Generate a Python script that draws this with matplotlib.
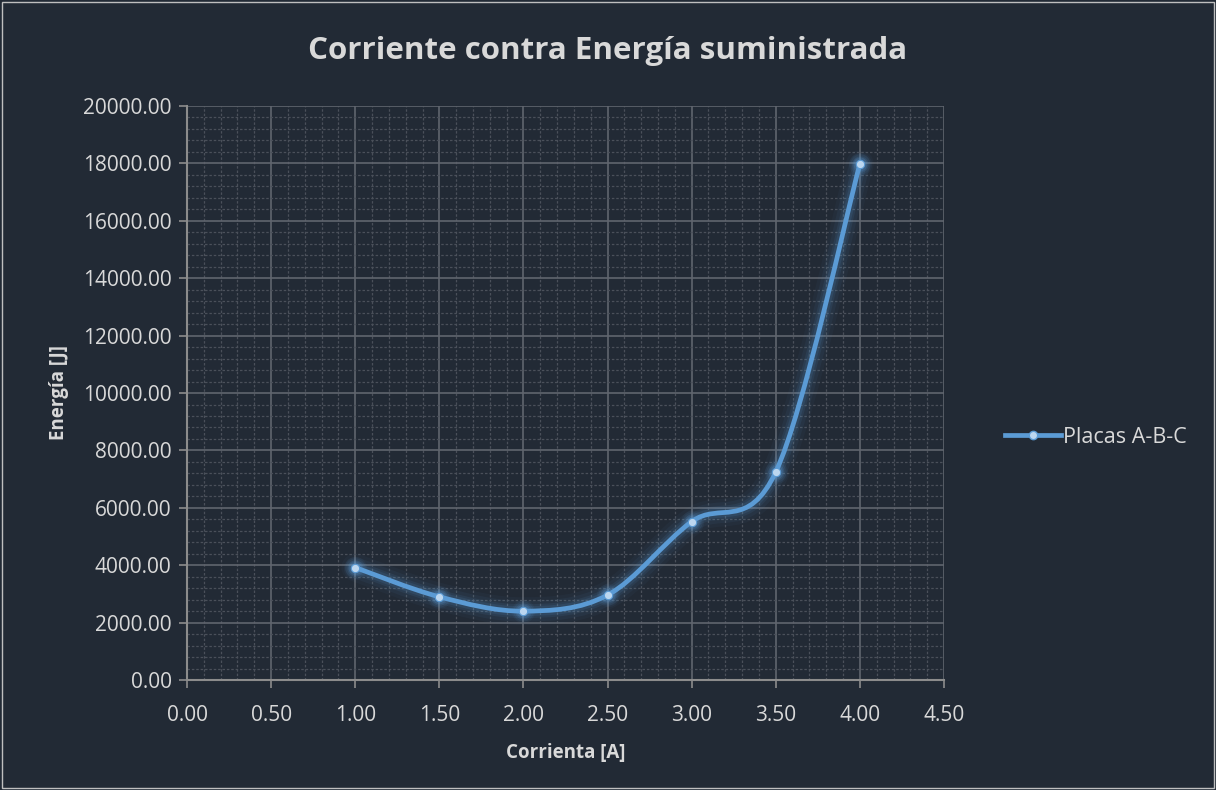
import matplotlib
matplotlib.use('Agg')
import matplotlib.pyplot as plt
from matplotlib.path import Path
from matplotlib.patches import PathPatch
from matplotlib.ticker import MultipleLocator, FormatStrFormatter

corriente = [1.0, 1.5, 2.0, 2.5, 3.0, 3.5, 4.0]
energia = [3920, 2900, 2400, 2960, 5520, 7250, 17980]
serie = 'Placas A-B-C'

bg = '#222a35'
txt = '#d9d9d9'
azul = '#5b9bd5'

plt.rcParams['font.family'] = ['Open Sans', 'DejaVu Sans']


def suave(xs, ys, t=1/6):
    # curva tipo Excel (Catmull-Rom a Bezier)
    verts = [(xs[0], ys[0])]
    codes = [Path.MOVETO]
    n = len(xs)
    for i in range(n - 1):
        x0, y0 = (xs[i - 1], ys[i - 1]) if i > 0 else (xs[i], ys[i])
        x3, y3 = (xs[i + 2], ys[i + 2]) if i + 2 < n else (xs[i + 1], ys[i + 1])
        c1 = (xs[i] + (xs[i + 1] - x0) * t, ys[i] + (ys[i + 1] - y0) * t)
        c2 = (xs[i + 1] - (x3 - xs[i]) * t, ys[i + 1] - (y3 - ys[i]) * t)
        verts += [c1, c2, (xs[i + 1], ys[i + 1])]
        codes += [Path.CURVE4] * 3
    return Path(verts, codes)


fig = plt.figure(figsize=(12.16, 7.9), dpi=100, facecolor=bg)
fig.patches.append(plt.Rectangle((0.002, 0.002), 0.996, 0.996, transform=fig.transFigure,
                                 fill=False, edgecolor='#bfbfbf', linewidth=1))
ax = fig.add_axes([0.1538, 0.1392, 0.6225, 0.7266], facecolor=bg)

ax.set_xlim(0, 4.5)
ax.set_ylim(0, 20000)
ax.xaxis.set_major_locator(MultipleLocator(0.5))
ax.xaxis.set_minor_locator(MultipleLocator(0.1))
ax.yaxis.set_major_locator(MultipleLocator(2000))
ax.yaxis.set_minor_locator(MultipleLocator(400))
ax.xaxis.set_major_formatter(FormatStrFormatter('%.2f'))
ax.yaxis.set_major_formatter(FormatStrFormatter('%.2f'))

ax.grid(which='major', color='#60656e', linewidth=1.2)
ax.grid(which='minor', color='#4a505a', linewidth=0.9, linestyle=(0, (2, 1.5)))
ax.set_axisbelow(True)

for s in ['top', 'right']:
    ax.spines[s].set_visible(False)
for s in ['left', 'bottom']:
    ax.spines[s].set_color('#8c8c8c')
    ax.spines[s].set_linewidth(1.5)
ax.tick_params(which='major', colors='#8c8c8c', length=6, width=1.2, labelcolor=txt,
               labelsize=15, pad=5)
ax.tick_params(axis='x', which='major', pad=12)
ax.tick_params(which='minor', length=0)

# brillo
for lw, a in [(20, 0.04), (15, 0.06), (10, 0.09), (7, 0.12)]:
    ax.add_patch(PathPatch(suave(corriente, energia), facecolor='none', edgecolor=azul,
                           linewidth=lw, alpha=a, capstyle='round'))
    ax.scatter(corriente, energia, s=lw * 14, color=azul, alpha=a * 1.5, linewidths=0)
ax.add_patch(PathPatch(suave(corriente, energia), facecolor='none', edgecolor=azul,
                       linewidth=3.4, capstyle='round'))
ax.plot(corriente, energia, linestyle='none', marker='o', markersize=6,
        color='#bcd7f0', markeredgecolor=azul, markeredgewidth=0.8, zorder=5)
ax.plot([], [], color=azul, linewidth=3.4, marker='o', markersize=6,
        markerfacecolor='#bcd7f0', markeredgecolor=azul, label=serie)

fig.text(0.5, 0.935, 'Corriente contra Energía suministrada', color=txt, fontsize=22.5,
         fontweight='bold', ha='center', va='center')
ax.set_xlabel('Corrienta [A]', color=txt, fontsize=13.5, fontweight='bold', labelpad=12)
ax.set_ylabel('Energía [J]', color=txt, fontsize=13.5, fontweight='bold', labelpad=10)

leg = ax.legend(loc='center left', bbox_to_anchor=(1.055, 0.423), frameon=False,
                fontsize=15.5, handlelength=2.6, handletextpad=0.1)
for t in leg.get_texts():
    t.set_color(txt)

fig.savefig('out.png', dpi=100, facecolor=bg)
